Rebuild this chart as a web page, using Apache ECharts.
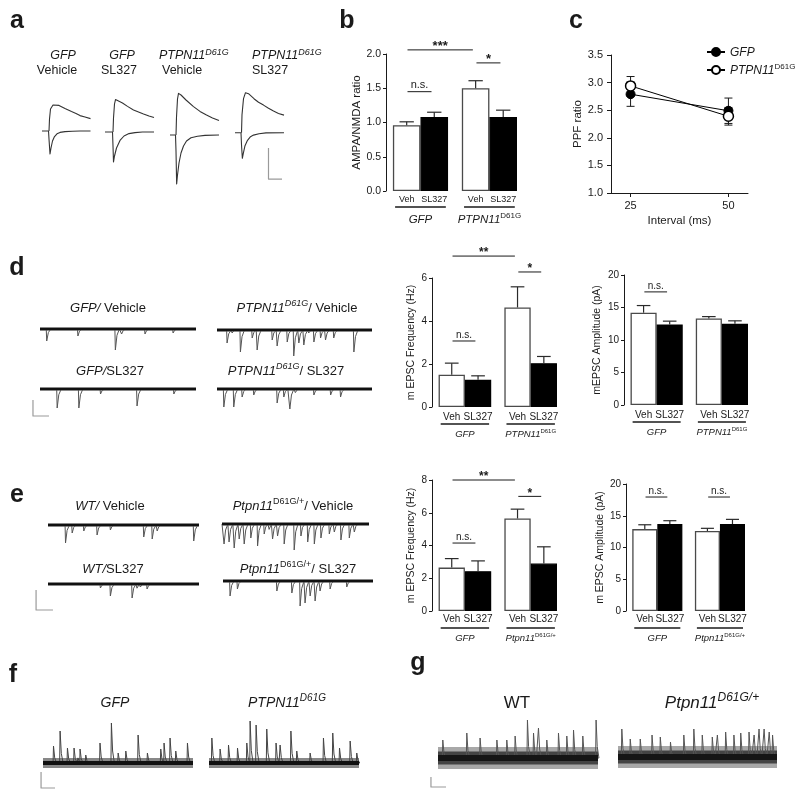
<!DOCTYPE html>
<html><head><meta charset="utf-8">
<script src="https://cdn.jsdelivr.net/npm/echarts@6/dist/echarts.min.js"></script>
<style>html,body{margin:0;padding:0;background:#fff}#main{width:800px;height:798px}</style>
</head><body><div id="main"></div>
<script>
// ======================= DATA =======================
// Panel b : AMPA/NMDA ratio
const bCategories = ['Veh', 'SL327', 'Veh', 'SL327'];
const bGroups = ['GFP', 'PTPN11|D61G'];
const bMean = [0.96, 1.08, 1.50, 1.08];
const bSem  = [0.05, 0.07, 0.11, 0.10];
const bTicks = [0, 0.5, 1.0, 1.5, 2.0];
const bSig = [[0, 2, 2.06, '***'], [2, 3, 1.87, '*'], [0, 1, 1.45, 'n.s.']];

// Panel c : PPF ratio
const cIntervals = [25, 50];
const cGfp = [2.79, 2.49];
const cGfpSem = [0.22, 0.23];
const cPtpn = [2.94, 2.39];
const cPtpnSem = [0.17, 0.16];
const cYTicks = [1.0, 1.5, 2.0, 2.5, 3.0, 3.5];

// Panel d : mEPSC (GFP vs PTPN11 D61G)
const dCategories = ['Veh', 'SL327', 'Veh', 'SL327'];
const dGroups = ['GFP', 'PTPN11|D61G'];
const dFreqMean = [1.50, 1.27, 4.63, 2.04];
const dFreqSem  = [0.54, 0.18, 0.96, 0.31];
const dFreqTicks = [0, 2, 4, 6];
const dFreqSig = [[0, 2, 7.02, '**'], [2, 3, 6.28, '*'], [0, 1, 3.07, 'n.s.']];
const dAmpMean = [14.2, 12.4, 13.3, 12.5];
const dAmpSem  = [1.1, 0.5, 0.3, 0.45];
const dAmpTicks = [0, 5, 10, 15, 20];
const dAmpSig = [[0, 1, 17.4, 'n.s.']];

// Panel e : mEPSC (WT vs Ptpn11 D61G/+)
const eCategories = ['Veh', 'SL327', 'Veh', 'SL327'];
const eGroups = ['GFP', 'Ptpn11|D61G/+'];
const eFreqMean = [2.65, 2.43, 5.65, 2.90];
const eFreqSem  = [0.55, 0.63, 0.57, 1.02];
const eFreqTicks = [0, 2, 4, 6, 8];
const eFreqSig = [[0, 2, 8.0, '**'], [2, 3, 7.0, '*'], [0, 1, 4.15, 'n.s.']];
const eAmpMean = [12.9, 13.7, 12.6, 13.7];
const eAmpSem  = [0.68, 0.52, 0.42, 0.73];
const eAmpTicks = [0, 5, 10, 15, 20];
const eAmpSig = [[0, 1, 17.95, 'n.s.'], [2, 3, 17.95, 'n.s.']];

// Panel a : evoked traces, [time ms, current pA]
const aTrace1Lower = [[4,0],[17,0],[18,-40],[20,-115],[22,-85],[25,-50],[29,-28],[34,-14],[40,-7],[50,-3],[65,-1],[80,0],[101,0]];
const aTrace1Upper = [[18,0],[19,60],[21,110],[26,130],[30,135],[38,128],[50,112],[63,97],[72,88],[80,77],[90,70],[101,62]];
const aTrace2Lower = [[0,0],[15,0],[16,-70],[17,-150],[19,-120],[23,-80],[30,-42],[38,-20],[48,-8],[60,-3],[75,0],[98,0]];
const aTrace2Upper = [[16,0],[17,70],[19,140],[21,162],[25,160],[35,145],[45,128],[57,110],[67,100],[77,90],[88,80],[98,72]];
const aTrace3Lower = [[0,0],[11,0],[12,-80],[13.3,-245],[15,-200],[18,-140],[22,-90],[27,-55],[33,-30],[42,-14],[55,-6],[70,-2],[98,0]];
const aTrace3Upper = [[12,0],[13,90],[15,180],[17,208],[22,200],[32,175],[47,142],[60,118],[73,100],[85,85],[98,72]];
const aTrace4Lower = [[0,0],[12,0],[13,-60],[14.7,-128],[16.5,-105],[20,-65],[25,-38],[31,-20],[37,-12],[48,-5],[62,-1],[98,0]];
const aTrace4Upper = [[13,0],[14,90],[17,170],[21,200],[27,195],[38,170],[47,152],[57,138],[67,122],[77,108],[87,96],[98,88]];
const aScaleBar = [67, -232, 27, 155]; // t, I, dt, dI

// Panels d-g : spontaneous events, [time % of sweep, amplitude]
const dGfpVehEvents = [[4,12],[24,7],[48,21],[52,5],[67,5],[85,4]];
const dPtpnVehEvents = [[6.2,13],[8.4,10],[14.8,22],[22.4,8],[25.6,20],[35.3,10],[38.5,16],[45,12],[49.2,26],[52.5,13],[55.7,15],[57.8,10],[62.2,12],[66.5,8],[69.7,10],[75,8],[88,22]];
const dGfpSlEvents = [[10.7,19],[24.6,19],[38.5,5],[61.9,17],[85.5,5]];
const dPtpnSlEvents = [[4.1,18],[10.5,18],[15.9,8],[23.4,6],[38.5,14],[42.8,8],[46.7,20],[49.2,12],[62.2,6],[73,6],[79.4,8]];
const dScaleBar = [-4.5, -27, 10.3, 16];

const eWtVehEvents = [[11.3,18],[15.7,8],[23.4,6],[32.2,10],[41,5],[63.1,12],[68.7,14],[72,6],[96.2,16]];
const ePtpnVehEvents = [[1.1,20],[4.5,18],[8,24],[11.4,15],[14.8,20],[19.3,14],[23.9,22],[28.4,10],[30.7,18],[34.1,15],[37.5,12],[42,20],[48.8,26],[53.4,12],[58,18],[62.5,20],[67,14],[72.7,10],[76.1,8],[80.6,16],[86.3,14],[89.7,8]];
const eWtSlEvents = [[34.4,4],[41,12],[55.4,14],[57.6,14],[59.8,10],[65.3,5]];
const ePtpnSlEvents = [[4.4,15],[9.3,8],[35.6,10],[45.6,12],[51.1,25],[54.4,22],[57.8,15],[61.1,20],[64.4,10],[71.1,8],[82.2,6]];
const eScaleBar = [-7.9, -26, 11.2, 20];

const fGfpEvents = [[6.7,17],[11.1,32],[16,15],[20.4,15],[22.2,17],[24.4,14],[28.2,8],[37.7,20],[45.3,40],[49.8,10],[54.9,12],[63.1,28],[69.3,10],[78.2,14],[80.4,20],[84.4,25],[88.2,12],[96,20]];
const fPtpnEvents = [[1.6,25],[7.1,14],[12.7,18],[18.7,15],[24.9,20],[27.1,42],[31.1,38],[38.2,34],[44.4,20],[47.1,18],[54.3,32],[58.2,12],[67.1,10],[76,25],[82.2,30],[86.7,15],[93.8,22],[98.2,10]];
const fScaleBar = [-1.3, -25, 9.3, 16];

const gWtEvents = [[2.7,18],[17.7,25],[26,20],[36.5,18],[42.7,18],[47.9,22],[55.6,38],[59.4,25],[62.5,30],[67.7,18],[75,25],[80.2,22],[84.4,28],[90.2,22],[98.5,38]];
const gPtpnEvents = [[2.1,28],[7.4,18],[13.7,18],[21.1,22],[26.3,20],[32.7,15],[41.1,22],[47.4,28],[52.7,22],[59,20],[62.2,22],[67.4,25],[72.6,22],[76.9,24],[82.1,25],[85.3,22],[88.4,28],[91.6,28],[94.8,25],[96.9,22]];
const gScaleBar = [-4.4, -29, 9.4, 10];

// ======================= BUILD =======================
const FONT = '"Liberation Sans", Arial, Helvetica, sans-serif';
const INK = '#1a1a1a';
const grids = [], xAxis = [], yAxis = [], series = [], graphic = [];

function addGrid(g, xa, ya) {
  const i = grids.length;
  grids.push(Object.assign({ containLabel: false, outerBoundsMode: 'none', show: false }, g));
  xa.gridIndex = i; ya.gridIndex = i;
  xAxis.push(xa); yAxis.push(ya);
  return i;
}

function richStyles(fs) {
  const base = { fontFamily: FONT, fontSize: fs, fill: INK, color: INK, verticalAlign: 'bottom', lineHeight: Math.round(fs * 1.2) };
  const sup = { fontFamily: FONT, fontSize: Math.round(fs * 0.68), fill: INK, color: INK, verticalAlign: 'top', lineHeight: Math.round(fs * 0.8) };
  return {
    n: base,
    i: Object.assign({}, base, { fontStyle: 'italic' }),
    s: sup,
    si: Object.assign({}, sup, { fontStyle: 'italic' })
  };
}
function groupRich(str) {
  const p = str.split('|');
  return p[1] ? '{i|' + p[0] + '}{s|' + p[1] + '}' : '{i|' + p[0] + '}';
}
function txt(x, y, text, fs, align, extra) {
  graphic.push({
    type: 'text', x: x, y: y, silent: true, z: 10,
    style: Object.assign({
      text: text, x: 0, y: 0, align: align || 'center', verticalAlign: 'middle',
      fill: INK, fontSize: fs, fontFamily: FONT, rich: richStyles(fs)
    }, extra || {})
  });
}

// ---------- bar panels ----------
function barPanel(o) {
  const pos = [0.75, 1.75, 3.25, 4.25], xMax = 4.75;
  const t = o.ticks;
  const gi = addGrid({ left: o.left, top: o.top, width: o.width, height: o.height },
    { type: 'value', min: 0, max: xMax, show: false },
    {
      type: 'value', min: t[0], max: t[t.length - 1], interval: t[1] - t[0],
      axisLine: { show: true, lineStyle: { color: INK, width: 1 } },
      axisTick: { show: true, length: 3, lineStyle: { color: INK, width: 1 } },
      axisLabel: { fontSize: o.tickFs, color: INK, fontFamily: FONT, margin: o.margin || 5,
        formatter: v => v.toFixed(o.dec) },
      splitLine: { show: false },
      name: o.name, nameLocation: 'middle', nameGap: o.nameGap,
      nameTextStyle: { fontSize: o.nameFs, color: INK, fontFamily: FONT }
    });
  const unit = o.width / xMax;
  series.push({
    type: 'bar', xAxisIndex: gi, yAxisIndex: gi, barWidth: unit, z: 2, silent: true,
    data: o.mean.map((v, i) => ({
      value: [pos[i], v],
      itemStyle: { color: i % 2 ? '#000' : '#fff', borderColor: i % 2 ? '#000' : '#4a4a4a', borderWidth: 1.3 },
      label: { formatter: o.cats[i] }
    })),
    label: { show: true, position: 'bottom', distance: o.catDist, fontSize: o.catFs, color: INK, fontFamily: FONT }
  });
  // error bars (upper SEM)
  series.push({
    type: 'custom', xAxisIndex: gi, yAxisIndex: gi, z: 3, silent: true,
    data: o.mean.map((v, i) => [pos[i], v, v + o.sem[i]]),
    renderItem: (p, api) => {
      const a = api.coord([api.value(0), api.value(1)]);
      const b = api.coord([api.value(0), api.value(2)]);
      const hw = unit * 0.26;
      const st = { stroke: '#2a2a2a', lineWidth: 1.2 };
      return { type: 'group', children: [
        { type: 'line', shape: { x1: a[0], y1: a[1], x2: b[0], y2: b[1] }, style: st },
        { type: 'line', shape: { x1: b[0] - hw, y1: b[1], x2: b[0] + hw, y2: b[1] }, style: st }
      ] };
    }
  });
  // group underline + label
  series.push({
    type: 'custom', xAxisIndex: gi, yAxisIndex: gi, z: 3, silent: true, clip: false,
    data: o.groups.map((g, k) => [pos[2 * k] - 0.42, pos[2 * k + 1] + 0.42, k]),
    renderItem: (p, api) => {
      const k = api.value(2);
      const a = api.coord([api.value(0), t[0]]);
      const b = api.coord([api.value(1), t[0]]);
      const y = a[1] + o.ulOff;
      return { type: 'group', children: [
        { type: 'line', shape: { x1: a[0], y1: y, x2: b[0], y2: y }, style: { stroke: INK, lineWidth: 1.5 } },
        { type: 'text', style: { text: groupRich(o.groups[k]), rich: richStyles(o.grpFs), x: (a[0] + b[0]) / 2, y: y + o.grpOff,
          align: 'center', verticalAlign: 'middle', fontSize: o.grpFs, fontFamily: FONT, fill: INK } }
      ] };
    }
  });
  // significance brackets
  series.push({
    type: 'custom', xAxisIndex: gi, yAxisIndex: gi, z: 3, silent: true, clip: false,
    data: o.sig.map((s, k) => [pos[s[0]] + 0.03, pos[s[1]] - 0.1, s[2], k]),
    renderItem: (p, api) => {
      const k = api.value(3);
      const label = o.sig[k][3];
      const a = api.coord([api.value(0), api.value(2)]);
      const b = api.coord([api.value(1), api.value(2)]);
      const stars = label.indexOf('*') >= 0;
      return { type: 'group', children: [
        { type: 'line', shape: { x1: a[0], y1: a[1], x2: b[0], y2: a[1] }, style: { stroke: INK, lineWidth: 1 } },
        { type: 'text', style: { text: label, x: (a[0] + b[0]) / 2, y: a[1] - (stars ? -3 : 1),
          align: 'center', verticalAlign: 'bottom', fontSize: stars ? o.starFs : o.nsFs,
          fontWeight: stars ? 'bold' : 'normal', fontFamily: FONT, fill: INK } }
      ] };
    }
  });
}

barPanel({ left: 386, top: 54, width: 131, height: 137, ticks: bTicks, dec: 1, tickFs: 10.5, margin: 5,
  name: 'AMPA/NMDA ratio', nameGap: 23, nameFs: 11.5, cats: bCategories, groups: bGroups,
  mean: bMean, sem: bSem, sig: bSig, catFs: 9, catDist: 4, ulOff: 16, grpFs: 11.5, grpOff: 12, starFs: 13, nsFs: 11 });
barPanel({ left: 432, top: 278, width: 125, height: 129, ticks: dFreqTicks, dec: 0, tickFs: 10, margin: 5,
  name: 'm EPSC Frequency (Hz)', nameGap: 15, nameFs: 10.5, cats: dCategories, groups: dGroups,
  mean: dFreqMean, sem: dFreqSem, sig: dFreqSig, catFs: 10, catDist: 5, ulOff: 17, grpFs: 9.5, grpOff: 10, starFs: 12, nsFs: 10 });
barPanel({ left: 624, top: 275, width: 124, height: 130, ticks: dAmpTicks, dec: 0, tickFs: 10, margin: 5,
  name: 'mEPSC Amplitude (pA)', nameGap: 21, nameFs: 10.5, cats: dCategories, groups: dGroups,
  mean: dAmpMean, sem: dAmpSem, sig: dAmpSig, catFs: 10, catDist: 5, ulOff: 17, grpFs: 9.5, grpOff: 10, starFs: 12, nsFs: 10 });
barPanel({ left: 432, top: 480, width: 125, height: 131, ticks: eFreqTicks, dec: 0, tickFs: 10, margin: 5,
  name: 'm EPSC Frequency (Hz)', nameGap: 15, nameFs: 10.5, cats: eCategories, groups: eGroups,
  mean: eFreqMean, sem: eFreqSem, sig: eFreqSig, catFs: 10, catDist: 3, ulOff: 17, grpFs: 9.5, grpOff: 10, starFs: 12, nsFs: 10 });
barPanel({ left: 626, top: 484, width: 119, height: 127, ticks: eAmpTicks, dec: 0, tickFs: 10, margin: 5,
  name: 'm EPSC Amplitude (pA)', nameGap: 20, nameFs: 10.5, cats: eCategories, groups: eGroups,
  mean: eAmpMean, sem: eAmpSem, sig: eAmpSig, catFs: 10, catDist: 3, ulOff: 17, grpFs: 9.5, grpOff: 10, starFs: 12, nsFs: 10 });

// ---------- panel c ----------
const cGi = addGrid({ left: 611, top: 55, width: 137, height: 138 },
  {
    type: 'value', min: 20, max: 55,
    axisLine: { show: true, lineStyle: { color: INK, width: 1 } },
    axisTick: { show: true, length: 4, customValues: cIntervals, lineStyle: { color: INK } },
    axisLabel: { customValues: cIntervals, fontSize: 11, color: INK, fontFamily: FONT, margin: 7 },
    splitLine: { show: false },
    name: 'Interval (ms)', nameLocation: 'middle', nameGap: 22,
    nameTextStyle: { fontSize: 11.5, color: INK, fontFamily: FONT }
  },
  {
    type: 'value', min: cYTicks[0], max: cYTicks[cYTicks.length - 1], interval: cYTicks[1] - cYTicks[0],
    axisLine: { show: true, lineStyle: { color: INK, width: 1 } },
    axisTick: { show: true, length: 4, lineStyle: { color: INK } },
    axisLabel: { fontSize: 11, color: INK, fontFamily: FONT, margin: 8, formatter: v => v.toFixed(1) },
    splitLine: { show: false },
    name: 'PPF ratio', nameLocation: 'middle', nameGap: 26,
    nameTextStyle: { fontSize: 11.5, color: INK, fontFamily: FONT }
  });
function cErr(vals, sems) {
  series.push({
    type: 'custom', xAxisIndex: cGi, yAxisIndex: cGi, z: 3, silent: true,
    data: cIntervals.map((x, i) => [x, vals[i] - sems[i], vals[i] + sems[i]]),
    renderItem: (p, api) => {
      const a = api.coord([api.value(0), api.value(1)]);
      const b = api.coord([api.value(0), api.value(2)]);
      const st = { stroke: INK, lineWidth: 1 };
      return { type: 'group', children: [
        { type: 'line', shape: { x1: a[0], y1: a[1], x2: b[0], y2: b[1] }, style: st },
        { type: 'line', shape: { x1: a[0] - 4, y1: a[1], x2: a[0] + 4, y2: a[1] }, style: st },
        { type: 'line', shape: { x1: b[0] - 4, y1: b[1], x2: b[0] + 4, y2: b[1] }, style: st }
      ] };
    }
  });
}
cErr(cGfp, cGfpSem);
cErr(cPtpn, cPtpnSem);
series.push({ name: 'GFP', type: 'line', xAxisIndex: cGi, yAxisIndex: cGi, z: 4, silent: true,
  data: cIntervals.map((x, i) => [x, cGfp[i]]), symbol: 'circle', symbolSize: 9,
  itemStyle: { color: '#000', borderColor: '#000', borderWidth: 1 }, lineStyle: { color: '#000', width: 1 } });
series.push({ name: 'PTPN11', type: 'line', xAxisIndex: cGi, yAxisIndex: cGi, z: 5, silent: true,
  data: cIntervals.map((x, i) => [x, cPtpn[i]]), symbol: 'circle', symbolSize: 10,
  itemStyle: { color: '#fff', borderColor: '#000', borderWidth: 1.5 }, lineStyle: { color: '#000', width: 1 } });

// ---------- traces ----------
// x axis spans [xMin, xMax]; the sweep itself (0..xMax) starts at pixel `left` and is `width` px wide
function traceGrid(left, baseY, width, xMax, unitsPerPx, xMin) {
  const half = 120;
  const lo = xMin || 0;
  const pxPerX = width / xMax;
  return addGrid({ left: left + lo * pxPerX, top: baseY - half, width: (xMax - lo) * pxPerX, height: 2 * half },
    { type: 'value', min: lo, max: xMax, show: false },
    { type: 'value', min: -half * unitsPerPx, max: half * unitsPerPx, show: false });
}
function lineS(gi, data, color, width, z) {
  series.push({ type: 'line', xAxisIndex: gi, yAxisIndex: gi, data: data, showSymbol: false, symbol: 'none',
    lineStyle: { color: color, width: width, cap: 'butt', join: 'round' }, clip: false, silent: true, z: z || 2 });
}
function spikePath(events, dir, xMax, rise, fall) {
  const pts = [[0, 0]]; let last = 0;
  events.slice().sort((a, b) => a[0] - b[0]).forEach(([t, a]) => {
    [[t, 0], [t + rise, dir * a], [t + rise + fall * 0.4, dir * a * 0.3], [t + rise + fall, 0]].forEach(p => {
      if (p[0] > last) { pts.push(p); last = p[0]; }
    });
  });
  pts.push([xMax, 0]);
  return pts;
}
function scaleBar(gi, sb) {
  lineS(gi, [[sb[0], sb[1] + sb[3]], [sb[0], sb[1]], [sb[0] + sb[2], sb[1]]], '#9a9a9a', 1.2, 1);
}

// panel a
const aTraces = [
  [40, 131, aTrace1Lower, aTrace1Upper],
  [105, 132, aTrace2Lower, aTrace2Upper],
  [170, 135, aTrace3Lower, aTrace3Upper],
  [235, 132.7, aTrace4Lower, aTrace4Upper]
];
let aLastGi = 0;
aTraces.forEach(([left, base, lo, up]) => {
  const gi = traceGrid(left, base, 51, 102, 5, 0);
  lineS(gi, up, '#333', 1.1, 2);
  lineS(gi, lo, '#333', 1.1, 2);
  aLastGi = gi;
});
scaleBar(aLastGi, aScaleBar);

// mEPSC traces (d, e): downward events
function mTrace(left, base, width, events, sb) {
  const gi = traceGrid(left, base, width, 100, 1, -12);
  lineS(gi, [[0, 0], [100, 0]], '#8a8a8a', 4, 1);
  lineS(gi, spikePath(events, -1, 100, 0.3, 2.6), '#555', 1, 2);
  lineS(gi, [[0, 0], [100, 0]], '#111', 1.8, 3);
  if (sb) scaleBar(gi, sb);
}
mTrace(40, 329, 156, dGfpVehEvents);
mTrace(217, 330, 155, dPtpnVehEvents);
mTrace(40, 389, 156, dGfpSlEvents, dScaleBar);
mTrace(217, 389, 155, dPtpnSlEvents);
mTrace(48, 525, 151, eWtVehEvents);
mTrace(222, 524, 147, ePtpnVehEvents);
mTrace(48, 584, 151, eWtSlEvents, eScaleBar);
mTrace(223, 581, 150, ePtpnSlEvents);

// f traces: upward events, moderate noise band
function fTrace(left, base, width, events, sb) {
  const gi = traceGrid(left, base, width, 100, 1, -12);
  lineS(gi, [[0, 0], [100, 0]], '#888', 10, 1);
  lineS(gi, spikePath(events, 1, 100, 0.3, 2.0), '#444', 1, 2);
  lineS(gi, [[0, 0], [100, 0]], '#111', 4, 3);
  if (sb) scaleBar(gi, sb);
}
fTrace(43, 763, 150, fGfpEvents, fScaleBar);
fTrace(209, 763, 150, fPtpnEvents);

// g traces: upward events, wide noise band
function gTrace(left, base, width, events, sb) {
  const gi = traceGrid(left, base, width, 100, 1, -12);
  lineS(gi, [[0, 0], [100, 0]], '#a8a8a8', 22, 1);
  lineS(gi, [[0, 0], [100, 0]], '#444', 13, 1);
  lineS(gi, spikePath(events, 1, 100, 0.3, 1.8), '#555', 1, 2);
  lineS(gi, [[0, 0], [100, 0]], '#151515', 6, 3);
  if (sb) scaleBar(gi, sb);
}
gTrace(438, 758, 160, gWtEvents, gScaleBar);
gTrace(618, 757, 159, gPtpnEvents);

// ---------- text ----------
// panel letters
[['a', 17, 21], ['b', 347, 21], ['c', 576, 21], ['d', 17, 268], ['e', 17, 495], ['f', 13, 675], ['g', 418, 663]]
  .forEach(([l, x, y]) => txt(x, y, l, 25, 'center', { fontWeight: 'bold' }));
// panel a headers
txt(63, 55, '{i|GFP}', 12.5); txt(57, 70, '{n|Vehicle}', 12.5);
txt(122, 55, '{i|GFP}', 12.5); txt(119, 70, '{n|SL327}', 12.5);
txt(159, 55, '{i|PTPN11}{si|D61G}', 12.5, 'left'); txt(162, 70, '{n|Vehicle}', 12.5, 'left');
txt(252, 55, '{i|PTPN11}{si|D61G}', 12.5, 'left'); txt(252, 70, '{n|SL327}', 12.5, 'left');
// panel d headers
txt(108, 307, '{i|GFP/}{n| Vehicle}', 13);
txt(297, 307, '{i|PTPN11}{si|D61G}{n|/ Vehicle}', 13);
txt(110, 370, '{i|GFP/}{n|SL327}', 13);
txt(286, 370, '{i|PTPN11}{si|D61G}{n|/ SL327}', 13);
// panel e headers
txt(110, 505, '{i|WT/}{n| Vehicle}', 13);
txt(293, 505, '{i|Ptpn11}{s|D61G/+}{n|/ Vehicle}', 13);
txt(113, 568, '{i|WT/}{n|SL327}', 13);
txt(298, 568, '{i|Ptpn11}{s|D61G/+}{n|/ SL327}', 13);
// panel f / g headers
txt(115, 702, '{i|GFP}', 14);
txt(287, 702, '{i|PTPN11}{si|D61G}', 14);
txt(517, 702, '{n|WT}', 17);
txt(712, 702, '{i|Ptpn11}{si|D61G/+}', 17);

const chart = echarts.init(document.getElementById('main'));
chart.setOption({
  animation: false,
  backgroundColor: '#fff',
  grid: grids, xAxis: xAxis, yAxis: yAxis, series: series, graphic: graphic,
  legend: {
    left: 701, top: 42, orient: 'vertical', itemWidth: 18, itemHeight: 10, itemGap: 4,
    data: ['GFP', 'PTPN11'], selectedMode: false,
    formatter: n => n === 'GFP' ? '{i|GFP}' : '{i|PTPN11}{s|D61G}',
    textStyle: { fontSize: 12, fontFamily: FONT, color: INK, rich: richStyles(12) }
  }
});
</script></body></html>
